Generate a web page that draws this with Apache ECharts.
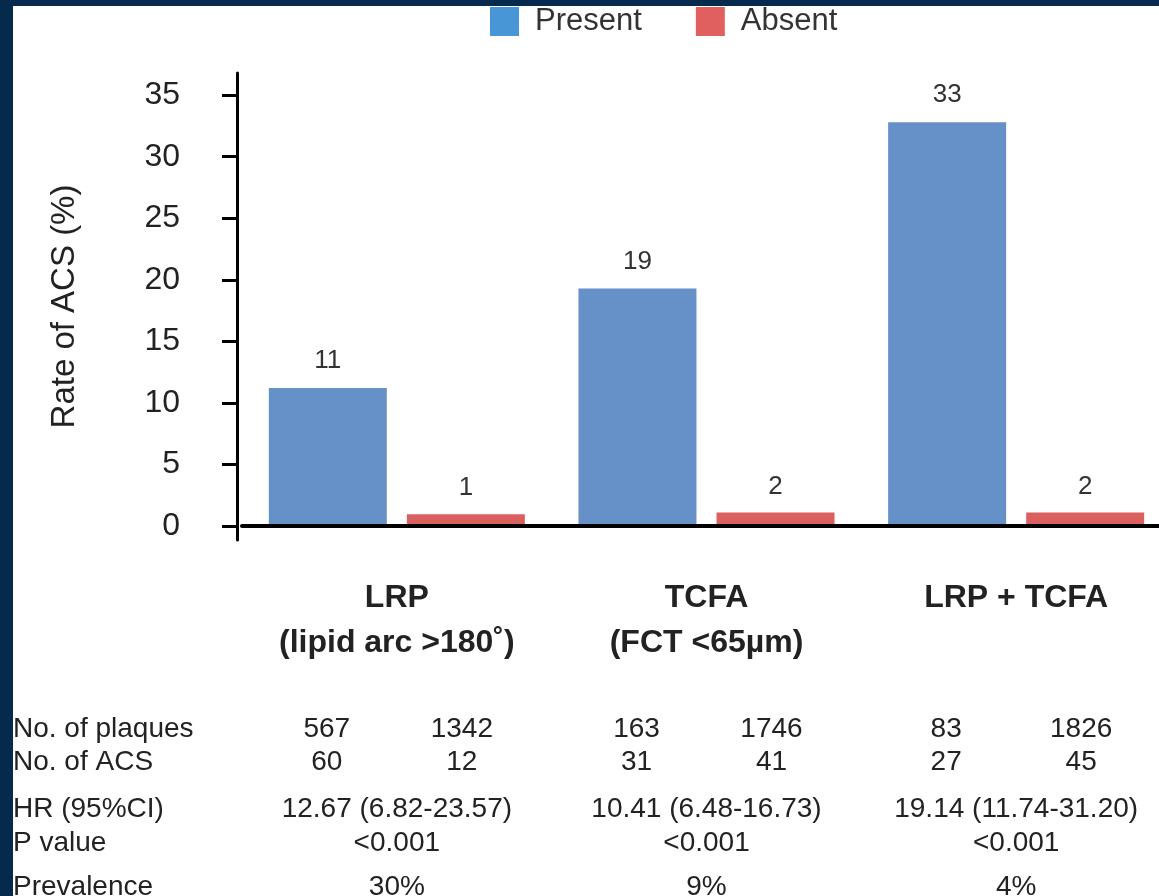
<!DOCTYPE html>
<html>
<head>
<meta charset="utf-8">
<script src="https://cdn.jsdelivr.net/npm/echarts@6/dist/echarts.min.js"></script>
<style>
  html, body { margin: 0; padding: 0; background: #ffffff; }
  #chart { position: absolute; left: 0; top: 0; width: 1159px; height: 896px; background: #ffffff; }
  .edge { position: absolute; background: #062a4c; pointer-events: none; }
</style>
</head>
<body>
<div id="chart"></div>
<div class="edge" style="left:0;top:0;width:13px;height:896px;"></div>
<div class="edge" style="left:0;top:0;width:1159px;height:6px;"></div>
<script>
// ---- data ----
var categories = ['LRP\n(lipid arc >180˚)', 'TCFA\n(FCT <65µm)', 'LRP + TCFA'];
var seriesNames = ['Present', 'Absent'];
var presentRate = [11.2, 19.3, 32.8];
var absentRate = [0.95, 1.1, 1.1];
var presentLabels = ['11', '19', '33'];
var absentLabels = ['1', '2', '2'];
var yTicks = [0, 5, 10, 15, 20, 25, 30, 35];
var plaquesPresent = ['567', '163', '83'];
var plaquesAbsent = ['1342', '1746', '1826'];
var acsPresent = ['60', '31', '27'];
var acsAbsent = ['12', '41', '45'];
var hrValues = ['12.67 (6.82-23.57)', '10.41 (6.48-16.73)', '19.14 (11.74-31.20)'];
var pValues = ['<0.001', '<0.001', '<0.001'];
var prevalence = ['30%', '9%', '4%'];
var rowNames = ['No. of plaques', 'No. of ACS', 'HR (95%CI)', 'P value', 'Prevalence'];

// ---- styles ----
var FONT = "'Liberation Sans', Arial, Helvetica, sans-serif";
var TXT = '#222222';
var BLUE = '#6690c8', RED = '#d9605f';
var LEG_BLUE = '#4896d6', LEG_RED = '#e0605f';

var gridBottomY = 540;
var rowCenters = [729, 762, 809, 843, 887];

function tableAxis(idx, formatter, rich) {
  var label = {
    show: true, margin: 0, verticalAlign: 'middle', interval: 0,
    fontFamily: FONT, fontSize: 28, color: TXT,
    formatter: formatter
  };
  if (rich) label.rich = rich;
  return {
    type: 'category', data: categories, gridIndex: 0, position: 'bottom',
    offset: rowCenters[idx] - gridBottomY,
    axisLine: { show: false, onZero: false }, axisTick: { show: false },
    axisLabel: label,
    name: rowNames[idx], nameLocation: 'start', nameGap: 229,
    nameTextStyle: { fontFamily: FONT, fontSize: 28, color: TXT, align: 'left', verticalAlign: 'middle' }
  };
}
var pairRich = {
  a: { width: 130, align: 'center', fontFamily: FONT, fontSize: 28, color: TXT },
  b: { width: 140, align: 'center', fontFamily: FONT, fontSize: 28, color: TXT }
};
function pairFormatter(left, right) {
  return function (v, i) { return '{a|' + left[i] + '}{b|' + right[i] + '}'; };
}
function listFormatter(arr) {
  return function (v, i) { return arr[i]; };
}

var chart = echarts.init(document.getElementById('chart'), null, { renderer: 'canvas' });
var option = {
  backgroundColor: '#ffffff',
  animation: false,
  textStyle: { fontFamily: FONT },
  legend: {
    left: 485, top: 1, itemWidth: 29, itemHeight: 29, itemGap: 54, icon: 'rect',
    textStyle: { fontFamily: FONT, fontSize: 31, color: '#333333', padding: [0, 0, 0, 11] },
    data: [
      { name: seriesNames[0], itemStyle: { color: LEG_BLUE } },
      { name: seriesNames[1], itemStyle: { color: LEG_RED } }
    ]
  },
  grid: { left: 242, top: 73, width: 929, height: 467, containLabel: false, outerBoundsMode: 'none' },
  xAxis: [
    {
      type: 'category', data: categories, z: 10,
      axisLine: { show: true, onZero: true, lineStyle: { color: '#000000', width: 4 } },
      axisTick: { show: false },
      axisLabel: {
        interval: 0, margin: 36, fontFamily: FONT, fontSize: 32, fontWeight: 'bold',
        color: TXT, lineHeight: 45
      }
    },
    tableAxis(0, pairFormatter(plaquesPresent, plaquesAbsent), pairRich),
    tableAxis(1, pairFormatter(acsPresent, acsAbsent), pairRich),
    tableAxis(2, listFormatter(hrValues)),
    tableAxis(3, listFormatter(pValues)),
    tableAxis(4, listFormatter(prevalence))
  ],
  yAxis: {
    type: 'value', min: -1.14, max: 36.8, offset: 5,
    name: 'Rate of ACS (%)', nameLocation: 'middle', nameGap: 156,
    nameTextStyle: { fontFamily: FONT, fontSize: 33, color: TXT },
    splitLine: { show: false },
    axisLine: { show: true, lineStyle: { color: '#000000', width: 3 } },
    axisTick: { show: true, length: 15, customValues: yTicks, lineStyle: { color: '#000000', width: 3 } },
    axisLabel: { show: true, margin: 57, customValues: yTicks, fontFamily: FONT, fontSize: 32, color: TXT }
  },
  series: [
    {
      name: seriesNames[0], type: 'bar', data: presentRate, barWidth: 118, barGap: '17%',
      itemStyle: { color: BLUE },
      label: { show: true, position: 'top', distance: 14, fontFamily: FONT, fontSize: 26, color: '#333333',
        formatter: function (p) { return presentLabels[p.dataIndex]; } }
    },
    {
      name: seriesNames[1], type: 'bar', data: absentRate, barWidth: 118, barGap: '17%',
      itemStyle: { color: RED },
      label: { show: true, position: 'top', distance: 13, fontFamily: FONT, fontSize: 26, color: '#333333',
        formatter: function (p) { return absentLabels[p.dataIndex]; } }
    }
  ]
};
chart.setOption(option);
</script>
</body>
</html>
